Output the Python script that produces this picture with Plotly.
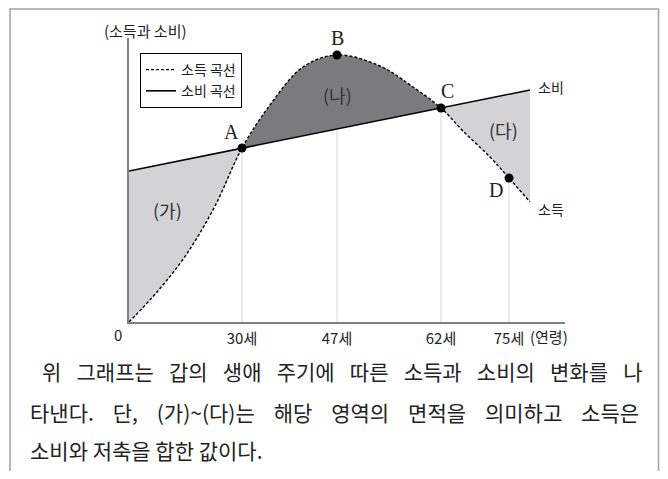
import plotly.graph_objects as go

# 도식 좌표 (가로: 원점으로부터의 위치, 세로: 크기)
age_labels = ["30세", "47세", "62세", "75세"]
age_pos = [113, 208, 312, 380]

# 소비 곡선 (직선)
cons_x = [0, 113, 312, 401]
cons_y = [151, 174, 214, 232]

# 소득 곡선 (그림에서 읽은 점)
inc_x = [0, 28, 57, 86, 113, 141, 174, 208, 251, 284, 312, 334, 361, 380, 401]
inc_y = [0, 30, 67, 116, 174, 217, 255, 267, 256, 235, 214, 191, 165, 144, 120]

# 점 A~D
pt_names = ["A", "B", "C", "D"]
pt_x = [113, 208, 312, 380]
pt_y = [174, 267, 214, 144]

# 영역 (가)~(다)
region_names = ["(가)", "(나)", "(다)"]

# 페이지 여백(body margin 8px) 보정: 그림이 창 안에 꼭 맞도록
OFF = 8
W, H = 668 - 2 * OFF, 479 - 2 * OFF
L, R, T, B = 129, 565, 38, 322


def px(x):
    return (x - L) / (R - L)


def py(y):
    return (B - y) / (B - T)


LIGHT = "#d3d3d5"
DARK = "#7b7b7e"
KR = "Noto Sans CJK KR"

fig = go.Figure()

# 보조선
gx, gy = [], []
for x, y in zip(pt_x, pt_y):
    gx += [x, x, None]
    gy += [0, y, None]
fig.add_trace(go.Scatter(x=gx, y=gy, mode="lines", line=dict(color="#d6d6d6", width=1),
                         showlegend=False, hoverinfo="skip"))


# 영역 채우기
def seg(xs, ys, a, b):
    return [x for x in xs if a <= x <= b], [y for x, y in zip(xs, ys) if a <= x <= b]


bounds = [(0, 113, LIGHT), (113, 312, DARK), (312, 401, LIGHT)]
for a, b, col in bounds:
    cx, cy = seg(cons_x, cons_y, a, b)
    ix, iy = seg(inc_x, inc_y, a, b)
    fig.add_trace(go.Scatter(x=cx, y=cy, mode="lines", line=dict(width=0),
                             showlegend=False, hoverinfo="skip"))
    fig.add_trace(go.Scatter(x=ix, y=iy, mode="lines", line=dict(width=0, shape="spline"),
                             fill="tonexty", fillcolor=col, showlegend=False, hoverinfo="skip"))

fig.add_trace(go.Scatter(x=inc_x, y=inc_y, mode="lines", name="소득 곡선",
                         line=dict(color="black", width=1.4, dash="3px,2px", shape="spline")))
fig.add_trace(go.Scatter(x=cons_x, y=cons_y, mode="lines", name="소비 곡선",
                         line=dict(color="black", width=1.6)))
fig.add_trace(go.Scatter(x=pt_x, y=pt_y, mode="markers", marker=dict(color="black", size=9),
                         showlegend=False, hoverinfo="skip"))

# 라벨
pt_lab = [(-11, 16), (0, 17), (6, 17), (-13, -12)]
for n, x, y, (dx, dy) in zip(pt_names, pt_x, pt_y, pt_lab):
    fig.add_annotation(x=x, y=y, text=n, showarrow=False, xshift=dx, yshift=dy,
                       font=dict(family="Liberation Serif", size=20, color="#222"))

region_pos = [(38, 112), (208, 227), (374, 192)]
for n, (x, y) in zip(region_names, region_pos):
    fig.add_annotation(x=x, y=y, text=n, showarrow=False,
                       font=dict(family=KR, size=18, color="#333"))

fig.add_annotation(x=cons_x[-1], y=cons_y[-1], text="소비", showarrow=False, xanchor="left",
                   xshift=6, yshift=3, font=dict(family=KR, size=14, color="#222"))
fig.add_annotation(x=inc_x[-1], y=inc_y[-1], text="소득", showarrow=False, xanchor="left",
                   xshift=6, yshift=-7, font=dict(family=KR, size=14, color="#222"))


def note(x, y, text, size, xanchor="center"):
    fig.add_annotation(x=px(x), y=py(y), xref="paper", yref="paper", text=text,
                       showarrow=False, xanchor=xanchor, yanchor="middle",
                       font=dict(family=KR, size=size, color="#222"))


note(145, 30, "(소득과 소비)", 15)
note(118, 334, "0", 15)
note(528, 336, "(연령)", 15, "left")

# 설명 문장 (양쪽 정렬 흉내: 띄어쓰기를 넓힘)
lines = [
    "위 그래프는 갑의 생애 주기에 따른 소득과 소비의 변화를 나",
    "타낸다. 단, (가)~(다)는 해당 영역의 면적을 의미하고 소득은",
    "소비와 저축을 합한 값이다.",
]
gaps = ["\u2002 ", "\u2002\u2009\u2009", " "]
line_x = [40, 28, 28]
line_y = [371, 412, 450]
for t, g, x, y in zip(lines, gaps, line_x, line_y):
    note(x, y, t.replace(" ", g), 21, "left")

# 바깥 테두리 (아래는 열려 있음)
fig.add_shape(type="rect", xref="paper", yref="paper",
              x0=px(10), x1=px(OFF + W - 1.5), y0=py(490), y1=py(OFF + 1),
              line=dict(color="#a3a3a3", width=1.5))

fig.update_layout(
    width=W, height=H,
    margin=dict(l=L - OFF, r=W - (R - OFF), t=T - OFF, b=H - (B - OFF)),
    paper_bgcolor="white", plot_bgcolor="white",
    showlegend=True,
    legend=dict(x=px(140), y=py(53), xanchor="left", yanchor="top",
                bordercolor="black", borderwidth=1, bgcolor="white",
                font=dict(family=KR, size=14, color="#222"), itemwidth=30,
                tracegroupgap=0, traceorder="normal"),
    xaxis=dict(range=[0, 436], showgrid=False, zeroline=False, showline=True,
               linecolor="#808080", linewidth=2, tickvals=age_pos, ticktext=age_labels,
               ticks="", ticklabelstandoff=2, tickfont=dict(family=KR, size=15, color="#222")),
    yaxis=dict(range=[0, 284], showgrid=False, zeroline=False, showline=True,
               linecolor="#808080", linewidth=2, showticklabels=False, ticks=""),
)

fig.write_html("out.html")
